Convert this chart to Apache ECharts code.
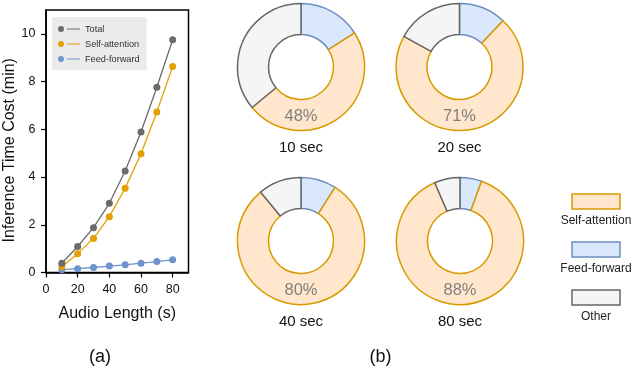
<!DOCTYPE html>
<html><head><meta charset="utf-8">
<script src="https://cdn.jsdelivr.net/npm/echarts@6/dist/echarts.min.js"></script>
<style>html,body{margin:0;padding:0;background:#fff}#c{width:634px;height:366px}</style>
</head><body><div id="c"></div>
<script>
const audioLengths = [10, 20, 30, 40, 50, 60, 70, 80];
const totalCost = [0.39, 1.09, 1.88, 2.90, 4.25, 5.89, 7.76, 9.75];
const selfAttnCost = [0.24, 0.79, 1.43, 2.34, 3.53, 4.98, 6.73, 8.63];
const feedForwardCost = [0.12, 0.16, 0.21, 0.27, 0.32, 0.39, 0.46, 0.53];
const xTicks = [0, 20, 40, 60, 80];
const yTicks = [0, 2, 4, 6, 8, 10];
const lineNames = ['Total', 'Self-attention', 'Feed-forward'];

const pieLabels = ['10 sec', '20 sec', '40 sec', '80 sec'];
const pieSelfAttn = [48, 71, 80, 88];
const pieFeedForward = [16, 12, 9, 5.5];
const pieOther = [36, 17, 11, 6.5];
const pieLegendNames = ['Self-attention', 'Feed-forward', 'Other'];

const FONT = '"Liberation Sans", Arial, Helvetica, sans-serif';
const lineColors = ['#6b6b6b', '#e3a003', '#6f94cc'];
const sliceStyle = {
  'Self-attention': { color: '#ffe6cc', borderColor: '#d79b00' },
  'Feed-forward': { color: '#dae8fc', borderColor: '#6c8ebf' },
  'Other': { color: '#f5f5f5', borderColor: '#666666' }
};

const chart = echarts.init(document.getElementById('c'), null, { renderer: 'canvas' });

const legendIcon = 'path://M3,0 A3,3 0 1,1 3,6 A3,3 0 1,1 3,0 Z M9,2.4 L22,2.4 L22,3.6 L9,3.6 Z';

const lineSeries = [totalCost, selfAttnCost, feedForwardCost].map((vals, i) => ({
  type: 'line',
  name: lineNames[i],
  data: audioLengths.map((x, j) => [x, vals[j]]),
  symbol: 'circle',
  symbolSize: 7,
  lineStyle: { width: 1.3, color: lineColors[i] },
  itemStyle: { color: lineColors[i] },
  z: 3 - i,
  animation: false
}));

const pieCenters = [[301, 67], [459.5, 67], [301, 241], [460, 241]];
const pieSeries = pieLabels.map((lab, i) => ({
  type: 'pie',
  name: lab,
  center: pieCenters[i],
  radius: [32.5, 63.5],
  startAngle: 90,
  clockwise: true,
  silent: true,
  animation: false,
  z: 1,
  label: { show: false },
  labelLine: { show: false },
  emphasis: { disabled: true },
  data: [
    { name: 'Feed-forward', value: pieFeedForward[i] },
    { name: 'Self-attention', value: pieSelfAttn[i] },
    { name: 'Other', value: pieOther[i] }
  ].map(d => ({ ...d, itemStyle: { ...sliceStyle[d.name], borderWidth: 1.5 } }))
}));

const txt = (x, y, text, size, fill) => ({
  type: 'text', x, y, silent: true, z: 100, zlevel: 0,
  style: { text, fill, font: size + 'px ' + FONT,
    align: 'center', verticalAlign: 'middle', textAlign: 'center', textVerticalAlign: 'middle' }
});

const graphics = [];
pieLabels.forEach((lab, i) => {
  const [cx, cy] = pieCenters[i];
  graphics.push(txt(cx, cy + 49.5, pieSelfAttn[i] + '%', 16.5, '#808080'));
  graphics.push(txt(cx, cy + 81, lab, 15, '#111'));
});
const legRectY = [194, 242, 290];
pieLegendNames.forEach((n, i) => {
  graphics.push({ type: 'rect', silent: true, z: 100,
    shape: { x: 572, y: legRectY[i], width: 48, height: 15 },
    style: { fill: sliceStyle[n].color, stroke: sliceStyle[n].borderColor, lineWidth: 1.5 } });
  graphics.push(txt(596, legRectY[i] + 27, n, 12, '#222'));
});
graphics.push(txt(100, 357.5, '(a)', 18, '#111'));
graphics.push(txt(380.5, 357.5, '(b)', 18, '#111'));

const axisCommon = {
  type: 'value',
  axisLine: { show: true, lineStyle: { color: '#000', width: 1.5 } },
  axisTick: { show: true, length: 5, lineStyle: { color: '#000', width: 1.2 } },
  splitLine: { show: false },
  axisLabel: { color: '#111', fontSize: 12.5, fontFamily: FONT },
  nameLocation: 'middle',
  nameTextStyle: { color: '#111', fontSize: 16, fontFamily: FONT }
};

chart.setOption({
  backgroundColor: '#fff',
  animation: false,
  textStyle: { fontFamily: FONT },
  grid: { left: 46, top: 10, width: 142.5, height: 262.5, show: true,
    borderColor: '#000', borderWidth: 1.5, backgroundColor: 'transparent' },
  legend: {
    data: lineNames,
    orient: 'vertical',
    left: 52, top: 17,
    backgroundColor: '#ebebeb',
    padding: [7, 7, 6, 6],
    itemGap: 5,
    itemWidth: 22, itemHeight: 6,
    itemTextGap: 5,
    icon: legendIcon,
    textStyle: { fontSize: 9.2, color: '#333', fontFamily: FONT, lineHeight: 10 },
    selectedMode: false
  },
  xAxis: { ...axisCommon, min: 0, max: 90, name: 'Audio Length (s)', nameGap: 33,
    axisTick: { ...axisCommon.axisTick, customValues: xTicks },
    axisLabel: { ...axisCommon.axisLabel, customValues: xTicks, margin: 11 } },
  yAxis: { ...axisCommon, min: 0, max: 11, name: 'Inference Time Cost (min)', nameGap: 28,
    nameTextStyle: { ...axisCommon.nameTextStyle, padding: [0, 18, 0, 0] },
    axisTick: { ...axisCommon.axisTick, customValues: yTicks },
    axisLabel: { ...axisCommon.axisLabel, customValues: yTicks, margin: 10.5 } },
  series: [...lineSeries, ...pieSeries],
  graphic: { elements: graphics }
});
</script></body></html>
